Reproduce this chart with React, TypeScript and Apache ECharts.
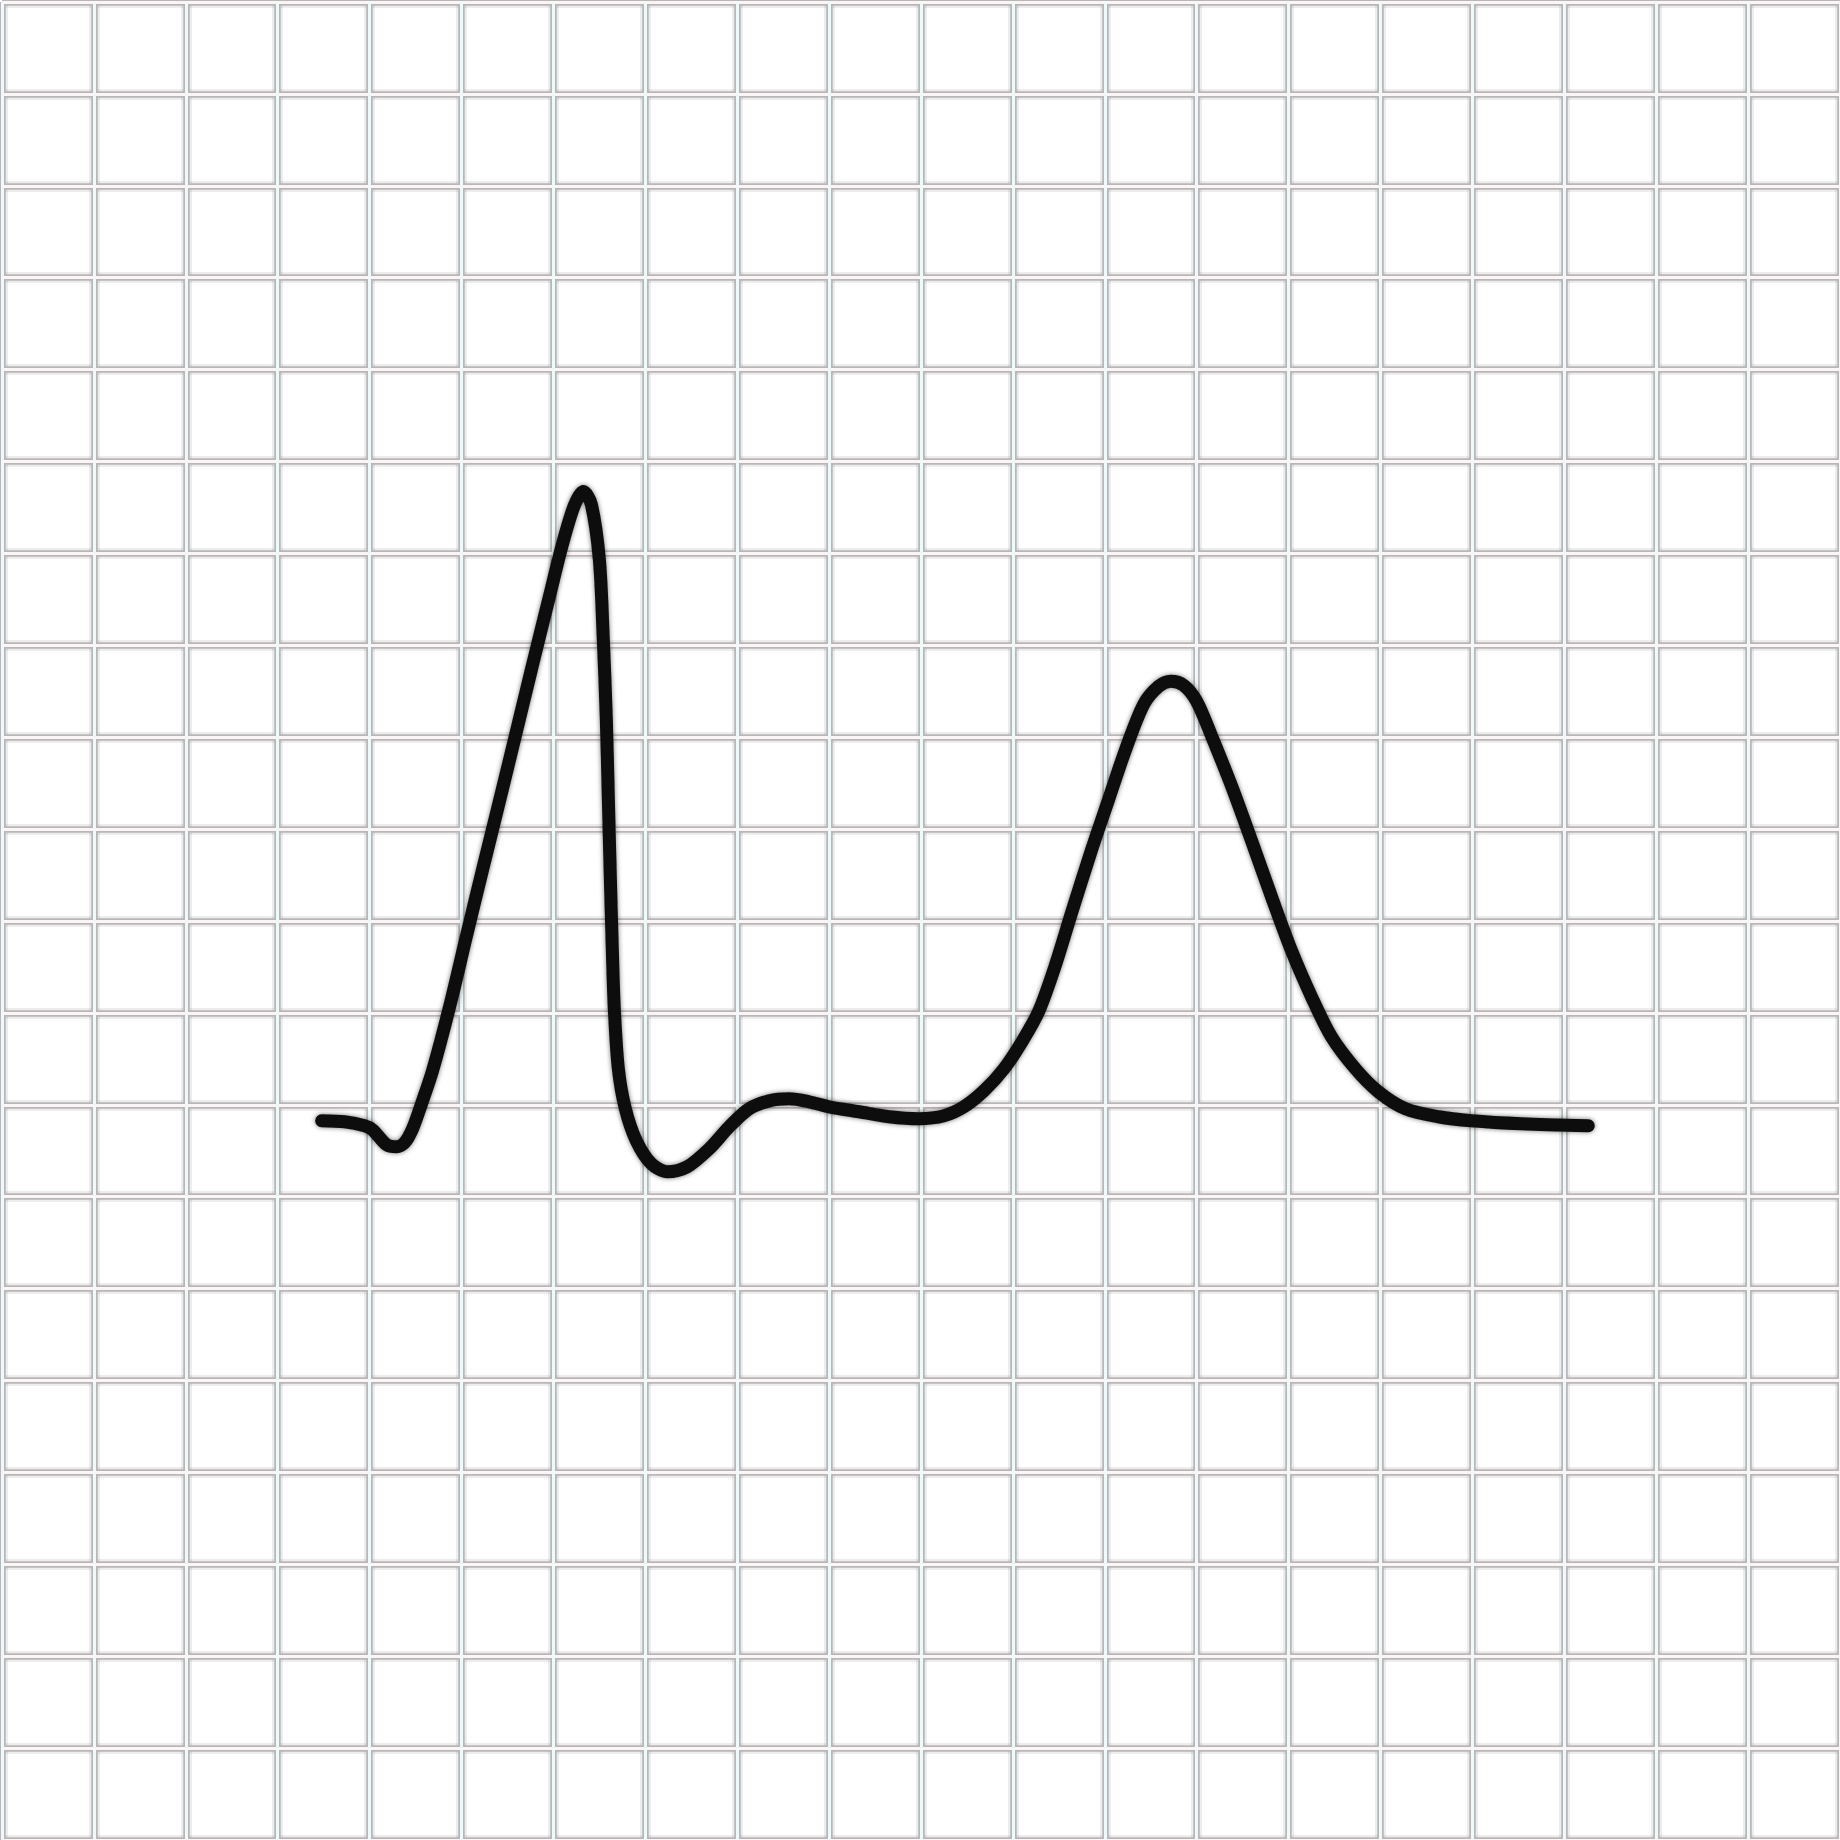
import React, { useEffect, useRef } from "react";
import * as echarts from "echarts";

// grid-unit coordinates of the traced waveform (x: cells from left, y: cells from bottom)
const traceX = [
  3.478, 3.728, 3.946, 4.033, 4.185, 4.293, 4.38, 4.467, 4.565, 4.685, 4.87, 5.054, 5.228, 5.413,
  5.598, 5.772, 5.957, 6.098, 6.228, 6.326, 6.413, 6.5, 6.543, 6.576, 6.598, 6.62, 6.641, 6.663,
  6.707, 6.783, 6.902, 7.065, 7.239, 7.457, 7.696, 7.913, 8.13, 8.348, 8.565, 8.783, 9.0, 9.326,
  9.652, 9.978, 10.25, 10.467, 10.685, 10.902, 11.098, 11.283, 11.467, 11.641, 11.859, 12.043,
  12.228, 12.424, 12.587, 12.717, 12.859, 13.0, 13.163, 13.38, 13.598, 13.815, 14.033, 14.25,
  14.467, 14.728, 14.978, 15.272, 15.63, 15.989, 16.533, 17.261,
];
const traceY = [
  7.826, 7.815, 7.772, 7.728, 7.565, 7.543, 7.587, 7.739, 8.011, 8.37, 9.065, 9.837, 10.554,
  11.304, 12.065, 12.783, 13.533, 14.098, 14.522, 14.674, 14.533, 13.935, 13.065, 12.196, 11.326,
  10.457, 9.696, 9.043, 8.391, 7.957, 7.609, 7.359, 7.272, 7.326, 7.522, 7.761, 7.957, 8.043,
  8.065, 8.033, 7.978, 7.924, 7.87, 7.848, 7.88, 7.978, 8.152, 8.391, 8.685, 9.022, 9.533, 10.098,
  10.783, 11.326, 11.87, 12.359, 12.554, 12.609, 12.565, 12.391, 12.011, 11.467, 10.87, 10.261,
  9.674, 9.174, 8.739, 8.391, 8.141, 7.957, 7.87, 7.826, 7.793, 7.772,
];
const gridCells = 20;

export default function App() {
  const ref = useRef<HTMLDivElement>(null);
  useEffect(() => {
    if (!ref.current) return;
    const chart = echarts.init(ref.current, undefined, { renderer: "svg" });
    const data = traceX.map((x, i) => [x, traceY[i]]);
    const axisBase = {
      type: "value" as const,
      min: 0,
      max: gridCells,
      interval: 1,
      axisLine: { show: false },
      axisTick: { show: false },
      axisLabel: { show: false },
    };
    const layer = (gridIndex: number, z: number, color: string, width: number, position: string) => ({
      ...axisBase,
      gridIndex,
      z,
      position,
      splitLine: { show: true, lineStyle: { color, width } },
    });
    const gridBox = { left: 2, top: 2, width: 1840, height: 1840, containLabel: false };
    chart.setOption({
      animation: false,
      backgroundColor: "#ffffff",
      grid: [gridBox, gridBox],
      xAxis: [
        layer(0, 0, "rgba(0,0,0,0.07)", 11, "bottom"),
        layer(0, 1, "#b6b7b8", 6.5, "top"),
        layer(1, 2, "#eff9f9", 3, "bottom"),
      ],
      yAxis: [
        layer(0, 0, "rgba(0,0,0,0.07)", 11, "left"),
        layer(0, 1, "#b8b6b6", 6.5, "right"),
        layer(1, 2, "#fcf5f5", 3, "left"),
      ],
      series: [
        {
          type: "line",
          xAxisIndex: 0,
          yAxisIndex: 0,
          z: 10,
          data,
          smooth: 0.3,
          showSymbol: false,
          symbol: "none",
          lineStyle: {
            color: "#0d0d0d",
            width: 13,
            cap: "round",
            join: "round",
            shadowBlur: 5,
            shadowColor: "rgba(0,0,0,0.55)",
          },
        },
      ],
    });
    return () => chart.dispose();
  }, []);
  return (
    <div
      ref={ref}
      style={{ position: "absolute", left: 0, top: 0, width: 1840, height: 1840, background: "#fff" }}
    />
  );
}
